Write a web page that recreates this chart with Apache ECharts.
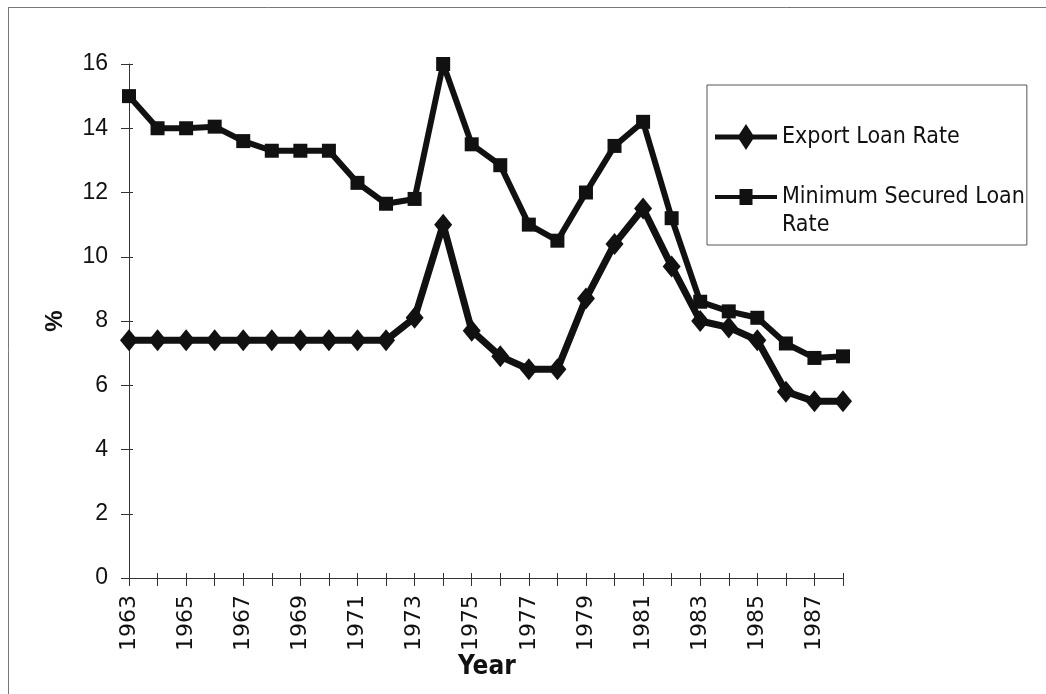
<!DOCTYPE html>
<html>
<head>
<meta charset="utf-8">
<script src="https://cdn.jsdelivr.net/npm/echarts@6/dist/echarts.min.js"></script>
<style>
html,body{margin:0;padding:0;background:#fff;}
#chart{width:1046px;height:694px;}
</style>
</head>
<body>
<div id="chart"></div>
<script>
const years = ['1963','1964','1965','1966','1967','1968','1969','1970','1971','1972','1973','1974','1975','1976','1977','1978','1979','1980','1981','1982','1983','1984','1985','1986','1987','1988'];
const exportLoanRate = [7.4,7.4,7.4,7.4,7.4,7.4,7.4,7.4,7.4,7.4,8.1,11.0,7.7,6.9,6.5,6.5,8.7,10.4,11.5,9.7,8.0,7.8,7.4,5.8,5.5,5.5];
const minSecuredLoanRate = [15.0,14.0,14.0,14.05,13.6,13.3,13.3,13.3,12.3,11.65,11.8,16.0,13.5,12.85,11.0,10.5,12.0,13.45,14.2,11.2,8.6,8.3,8.1,7.3,6.85,6.9];
const seriesNames = ['Export Loan Rate', 'Minimum Secured Loan Rate'];
const yTicks = {min: 0, max: 16, interval: 2};

const ink = '#111';
const chart = echarts.init(document.getElementById('chart'), null, {renderer: 'canvas'});
const tickFont = "'Liberation Sans', Arial, sans-serif";
const narrow = "'DejaVu Sans Condensed', 'Liberation Sans', sans-serif";

chart.setOption({
  backgroundColor: '#fff',
  animation: false,
  grid: {left: 129, right: 203, top: 64, bottom: 116, containLabel: false},
  graphic: [
    {type: 'line', shape: {x1: 8, y1: 7.5, x2: 1046, y2: 7.5}, style: {stroke: '#777', lineWidth: 1}, silent: true},
    {type: 'line', shape: {x1: 8.5, y1: 7, x2: 8.5, y2: 694}, style: {stroke: '#777', lineWidth: 1}, silent: true},
    {type: 'text', left: 458, top: 654, style: {text: 'Year', fontFamily: narrow, fontSize: 26, fontWeight: 'bold', fill: ink}, silent: true}
  ],
  legend: {
    left: 707, top: 85,
    orient: 'vertical',
    itemWidth: 62, itemHeight: 30, itemGap: 3,
    padding: [37, 2, 6, 8],
    borderColor: '#555', borderWidth: 1,
    backgroundColor: '#fff',
    selectedMode: false,
    symbolKeepAspect: true,
    textStyle: {fontFamily: narrow, fontSize: 23, color: ink, lineHeight: 28},
    data: [
      {name: seriesNames[0], icon: 'path://M0,0M62,30M0,12.5H62V17.5H0Z M31,2L39.5,15L31,28L22.5,15Z'},
      {name: seriesNames[1], icon: 'path://M0,0M62,30M0,13H62V17H0Z M24.5,7H37.5V23H24.5Z'}
    ],
    formatter: function (n) { return n === seriesNames[1] ? '\nMinimum Secured Loan\nRate' : n; }
  },
  xAxis: [{
    type: 'category', data: years, boundaryGap: false,
    axisLine: {lineStyle: {color: '#333', width: 1}},
    axisTick: {show: true, interval: 0, length: 8, lineStyle: {color: '#333'}},
    axisLabel: {interval: 1, rotate: 90, margin: 17, fontFamily: "'DejaVu Sans', sans-serif", fontSize: 22, color: ink},
    splitLine: {show: false}
  }, {
    type: 'category', data: years, boundaryGap: false, position: 'bottom',
    axisLine: {show: false},
    axisTick: {show: true, inside: true, interval: 0, length: 5, lineStyle: {color: '#333'}},
    axisLabel: {show: false}, splitLine: {show: false}
  }],
  yAxis: [{
    type: 'value', min: yTicks.min, max: yTicks.max, interval: yTicks.interval,
    name: '%', nameLocation: 'middle', nameGap: 62, nameRotate: 90,
    nameTextStyle: {fontFamily: tickFont, fontSize: 24, fontWeight: 'bold', color: ink},
    axisLine: {show: true, lineStyle: {color: '#333', width: 1}},
    axisTick: {show: true, length: 8, lineStyle: {color: '#333'}},
    axisLabel: {margin: 21, fontFamily: tickFont, fontSize: 23, color: ink},
    splitLine: {show: false}
  }, {
    type: 'value', min: yTicks.min, max: yTicks.max, interval: yTicks.interval, position: 'left',
    axisLine: {show: false},
    axisTick: {show: true, inside: true, length: 4, lineStyle: {color: '#333'}},
    axisLabel: {show: false}, splitLine: {show: false}
  }],
  series: [{
    name: seriesNames[0], type: 'line', data: exportLoanRate,
    symbol: 'diamond', symbolSize: [18, 22], showAllSymbol: true,
    lineStyle: {color: ink, width: 7}, itemStyle: {color: ink}
  }, {
    name: seriesNames[1], type: 'line', data: minSecuredLoanRate,
    symbol: 'rect', symbolSize: 14, showAllSymbol: true,
    lineStyle: {color: ink, width: 6}, itemStyle: {color: ink}
  }]
});
</script>
</body>
</html>
